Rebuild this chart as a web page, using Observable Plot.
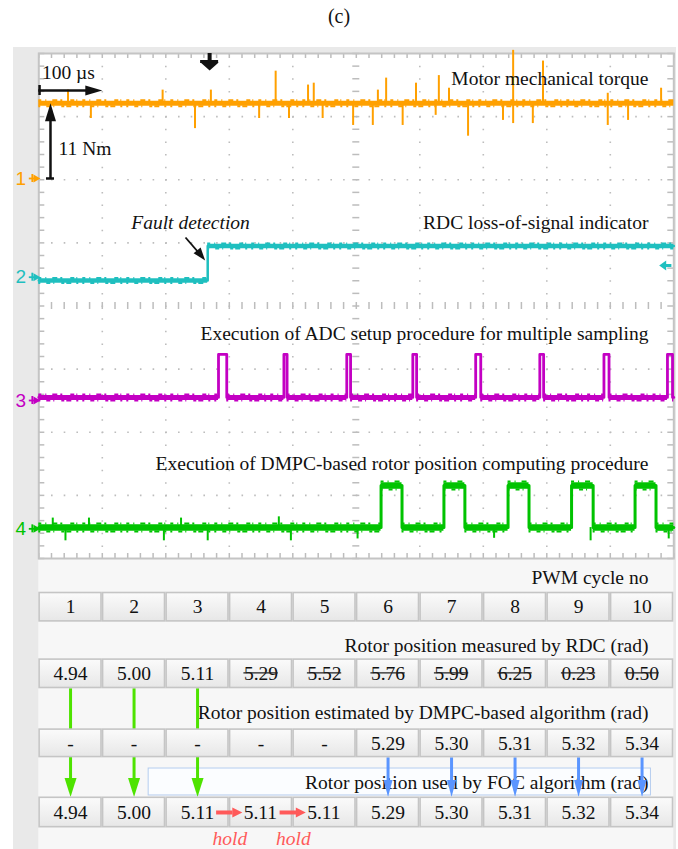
<!DOCTYPE html>
<html><head><meta charset="utf-8">
<script src="https://cdn.jsdelivr.net/npm/d3@7"></script>
<script src="https://cdn.jsdelivr.net/npm/@observablehq/plot@0.6"></script>
<style>
body{margin:0;background:#fff;}
#wrap{position:relative;width:678px;height:849px;overflow:hidden;}
#panel{position:absolute;left:13px;top:47px;width:663px;height:802px;background:#e9e9e9;}
#title{position:absolute;left:0;top:5px;width:678px;text-align:center;font:20px "Liberation Serif",serif;color:#111;}
#chart{position:absolute;left:0;top:0;}
</style></head><body>
<div id="wrap"><div id="panel"></div><div id="title"></div><div id="chart"></div></div>
<script>
// ---------------- data ----------------
const title = "(c)";
const channelIds = ["1", "2", "3", "4"];
const channelColors = ["#ffa000", "#1fbfbf", "#c300c3", "#00c300"];
const channelGround = [6.02, 4.456, 2.503, 0.47];            // div (100 µs/div time, 8 div vertical)
const channelLabels = ["Motor mechanical torque", "RDC loss-of-signal indicator",
  "Execution of ADC setup procedure for multiple sampling",
  "Execution of DMPC-based rotor position computing procedure"];

// ch1 - torque (div above ground)
const torqueLevel = 1.19;
const torqueSpikeT = [46, 82, 195, 246, 271, 347, 373, 394, 424, 433, 447, 495, 526, 534, 547, 573, 594, 625, 630, 646, 676, 731, 747, 747, 778, 794, 896, 896, 928, 980];
const torqueSpikeV = [1.40, 0.95, 1.40, 0.79, 1.40, 0.95, 1.70, 0.95, 1.48, 1.51, 0.95, 0.84, 0.84, 1.40, 1.59, 0.84, 1.51, 1.00, 1.63, 1.43, 0.67, 0.92, 2.03, 0.87, 0.87, 1.86, 1.35, 0.84, 0.92, 1.43];
// ch2 - RDC loss of signal
const losStepT = 266, losLow = -0.052, losHigh = 0.495;
// ch3 - ADC setup pulses
const adcLow = 0.048, adcHigh = 0.73;
const adcPulseStart = [283, 386, 485, 589, 688, 789, 890, 990];
const adcPulseEnd   = [296, 391, 491, 595, 696, 795, 898, 998];
// ch4 - DMPC computing pulses
const dmpcLow = 0.02, dmpcHigh = 0.686;
const dmpcPulseStart = [539, 638, 739, 839, 939];
const dmpcPulseEnd   = [572, 671, 772, 873, 972];
const dmpcSpikeT = [22, 42, 79, 197, 224, 266, 378, 397, 502, 717, 869, 992];
const dmpcSpikeV = [0.17, -0.19, 0.17, -0.19, 0.17, -0.19, 0.19, -0.19, -0.16, -0.15, -0.19, -0.16];

const triggerT = 269;
const ch2MarkerLevel = 0.186;
const timeScaleLabel = "100 µs", timeScaleT = 100;
const torqueScaleLabel = "11 Nm";
const faultLabel = "Fault detection";

// table
const pwmCycles = ["1", "2", "3", "4", "5", "6", "7", "8", "9", "10"];
const rdcValues = ["4.94", "5.00", "5.11", "5.29", "5.52", "5.76", "5.99", "6.25", "0.23", "0.50"];
const rdcStruck = [false, false, false, true, true, true, true, true, true, true];
const dmpcValues = ["-", "-", "-", "-", "-", "5.29", "5.30", "5.31", "5.32", "5.34"];
const focValues = ["4.94", "5.00", "5.11", "5.11", "5.11", "5.29", "5.30", "5.31", "5.32", "5.34"];
const rowLabels = ["PWM cycle no", "Rotor position measured by RDC (rad)",
  "Rotor position estimated by DMPC-based algorithm (rad)", "Rotor position used by FOC algorithm (rad)"];
const rdcUsedCycles = [1, 2, 3];
const dmpcUsedCycles = [6, 7, 8, 9, 10];
const holdCycles = [4, 5];
const holdLabel = "hold";

// ---------------- layout ----------------
const W = 678, H = 849, mL = 38.3, mR = 4.7, mT = 53, mB = 291;
const tPx = 1000 / (W - mL - mR), vPx = 8 / (H - mT - mB);
const serif = "Liberation Serif, Times New Roman, serif";
const FS = 19.5;
const rowBox = [[-0.534, -1.009], [-1.589, -2.064], [-2.698, -3.158], [-3.778, -4.269]];
const rowMid = rowBox.map(([a, b]) => (a + b) / 2);
const labelV = [-0.301, -1.378, -2.44, -3.548];
const labelT = 960;

function tri(tipT, tipV, dx, dy, len, wid, id) {
  const n = Math.hypot(dx, dy), ux = dx / n, uy = dy / n;
  const bx = -ux * len, by = -uy * len, qx = -uy, qy = ux;
  return [[0, 0], [bx + qx * wid / 2, by + qy * wid / 2], [bx - qx * wid / 2, by - qy * wid / 2]]
    .map(([ox, oy]) => ({id, t: tipT + ox * tPx, v: tipV - oy * vPx}));
}
function pulseTrace(starts, ends, low, high, g) {
  const p = [{t: 0, v: g + low}];
  starts.forEach((s, k) => p.push({t: s, v: g + low}, {t: s, v: g + high}, {t: ends[k], v: g + high}, {t: ends[k], v: g + low}));
  p.push({t: 1000, v: g + low});
  return p;
}
function levelSegs(starts, ends, low, high, g) {
  const s = [];
  let prev = 0;
  starts.forEach((st, k) => { s.push({t1: prev, t2: st, v: g + low}); s.push({t1: st, t2: ends[k], v: g + high}); prev = ends[k]; });
  s.push({t1: prev, t2: 1000, v: g + low});
  return s;
}
// oscilloscope band texture (styling only: dashed edge strokes)
function band(segs, color, width, off) {
  return [
    Plot.ruleY(segs, {x1: "t1", x2: "t2", y: "v", stroke: color, strokeWidth: width}),
    Plot.ruleY(segs, {x1: "t1", x2: "t2", y: "v", dy: -off, stroke: color, strokeWidth: 2, strokeDasharray: "3,4,1,6,5,3,2,8,4,2,1,5"}),
    Plot.ruleY(segs, {x1: "t1", x2: "t2", y: "v", dy: off, stroke: color, strokeWidth: 2, strokeDasharray: "2,6,4,3,1,7,3,2,5,5,2,4"})
  ];
}

document.getElementById("title").textContent = title;

const g = channelGround, col = channelColors;
const divT = d3.range(100, 1000, 100).filter(t => t !== 500);
const divV = d3.range(1, 8).filter(v => v !== 4);
const minorT = d3.range(0, 1000.1, 20);
const minorV = d3.range(0, 8.01, 0.2);
const gridC = "#bdbdbd";

const marks = [];
// backgrounds
marks.push(Plot.rect([0], {x1: 0, x2: 1000, y1: 0, y2: -4.8, fill: "#f7f7f7"}));
marks.push(Plot.frame({fill: "white", stroke: "none"}));
// graticule
marks.push(Plot.ruleX(divT, {stroke: gridC, strokeWidth: 1.6, strokeDasharray: "1.6,11.025"}));
marks.push(Plot.ruleY(divV, {stroke: gridC, strokeWidth: 1.6, strokeDasharray: "1.6,11.1"}));
marks.push(Plot.ruleX(minorT, {y1: 4 - 3.5 * vPx, y2: 4 + 3.5 * vPx, stroke: gridC, strokeWidth: 1.5}));
marks.push(Plot.ruleY(minorV, {x1: 500 - 3.5 * tPx, x2: 500 + 3.5 * tPx, stroke: gridC, strokeWidth: 1.5}));
marks.push(Plot.ruleY(minorV, {x1: 0, x2: 6 * tPx, stroke: gridC, strokeWidth: 1.5}));
marks.push(Plot.ruleY(minorV, {x1: 1000 - 6 * tPx, x2: 1000, stroke: gridC, strokeWidth: 1.5}));
marks.push(Plot.ruleX(minorT, {y1: 8 - 5 * vPx, y2: 8, stroke: gridC, strokeWidth: 1.5}));
marks.push(Plot.ruleX(minorT, {y1: 0, y2: 5 * vPx, stroke: gridC, strokeWidth: 1.5}));
marks.push(Plot.frame({stroke: "#c4c4c4", strokeWidth: 2}));

// ch1 torque
marks.push(...band([{t1: 0, t2: 1000, v: g[0] + torqueLevel}], col[0], 5, 3));
marks.push(Plot.ruleX(torqueSpikeT.map((t, k) => ({t, v: torqueSpikeV[k]})),
  {x: "t", y1: g[0] + torqueLevel, y2: d => g[0] + d.v, stroke: col[0], strokeWidth: 2}));
// ch2 loss of signal
marks.push(Plot.line([{t: 0, v: g[1] + losLow}, {t: losStepT, v: g[1] + losLow}, {t: losStepT, v: g[1] + losHigh}, {t: 1000, v: g[1] + losHigh}],
  {x: "t", y: "v", stroke: col[1], strokeWidth: 2.5}));
marks.push(...band([{t1: 0, t2: losStepT, v: g[1] + losLow}, {t1: losStepT, t2: 1000, v: g[1] + losHigh}], col[1], 4.5, 2.5));
// ch3 ADC
marks.push(Plot.line(pulseTrace(adcPulseStart, adcPulseEnd, adcLow, adcHigh, g[2]), {x: "t", y: "v", stroke: col[2], strokeWidth: 2.8}));
marks.push(...band(levelSegs(adcPulseStart, adcPulseEnd, adcLow, adcHigh, g[2]).filter(s => s.v === g[2] + adcLow), col[2], 5, 3));
// ch4 DMPC
marks.push(Plot.line(pulseTrace(dmpcPulseStart, dmpcPulseEnd, dmpcLow, dmpcHigh, g[3]), {x: "t", y: "v", stroke: col[3], strokeWidth: 3}));
marks.push(...band(levelSegs(dmpcPulseStart, dmpcPulseEnd, dmpcLow, dmpcHigh, g[3]), col[3], 6.5, 4));
marks.push(Plot.ruleX(dmpcSpikeT.map((t, k) => ({t, v: dmpcSpikeV[k]})),
  {x: "t", y1: g[3] + dmpcLow, y2: d => g[3] + d.v, stroke: col[3], strokeWidth: 2}));

// channel markers
const chData = channelIds.map((id, k) => ({id, k, v: g[k]}));
marks.push(Plot.text(chData, {x: 0, y: "v", text: "id", dx: -18, fill: d => col[d.k], fontSize: 19, fontFamily: "Liberation Sans, DejaVu Sans, sans-serif"}));
marks.push(Plot.ruleY(chData, {x1: -9.5 * tPx, x2: -2 * tPx, y: "v", stroke: d => col[d.k], strokeWidth: 1.8}));
marks.push(Plot.ruleX(chData, {x: -6.5 * tPx, y1: d => d.v - 4 * vPx, y2: d => d.v + 4 * vPx, stroke: d => col[d.k], strokeWidth: 1.8}));
marks.push(Plot.dot(chData, {x: -3 * tPx, y: "v", symbol: "triangle", rotate: 90, r: 3, fill: d => col[d.k], stroke: "none"}));
// ch2 right-side level marker
marks.push(Plot.ruleY([g[1] + ch2MarkerLevel], {x1: 985, x2: 997, stroke: col[1], strokeWidth: 3}));
marks.push(Plot.line(tri(977, g[1] + ch2MarkerLevel, -1, 0, 7, 10, "m"), {x: "t", y: "v", z: "id", fill: col[1], stroke: "none", curve: "linear-closed"}));

// channel labels
marks.push(Plot.text(channelLabels.map((s, k) => ({s, v: [7.604, 5.323, 3.564, 1.505][k]})),
  {x: labelT, y: "v", text: "s", textAnchor: "end", fontSize: FS, fontFamily: serif, fill: "#111"}));

// scale annotations
const tsV = 7.414;
marks.push(Plot.ruleY([tsV], {x1: 0, x2: timeScaleT - 15 * tPx, stroke: "#111", strokeWidth: 2.5}));
marks.push(Plot.ruleX([1.2], {y1: tsV - 5 * vPx, y2: tsV + 5 * vPx, stroke: "#111", strokeWidth: 2.5}));
const tqT = 18.4;
marks.push(Plot.ruleX([tqT], {y1: g[0], y2: g[0] + torqueLevel - 15 * vPx, stroke: "#111", strokeWidth: 2.5}));
marks.push(Plot.ruleY([g[0]], {x1: tqT - 4 * tPx, x2: tqT + 4 * tPx, stroke: "#111", strokeWidth: 2.5}));
const faultFrom = {t: 231, v: 5.085}, faultTo = {t: losStepT - 4, v: 4.72};
marks.push(Plot.link([0], {x1: faultFrom.t, y1: faultFrom.v, x2: faultTo.t - 6 * tPx * 0.62, y2: faultTo.v + 6 * vPx * 0.78, stroke: "#111", strokeWidth: 1.8}));
marks.push(Plot.ruleX([triggerT], {y1: 8, y2: 8 - 8 * vPx, stroke: "#111", strokeWidth: 4}));
marks.push(Plot.rect([0], {x1: triggerT - 9 * tPx, x2: triggerT + 9 * tPx, y1: 8 - 7 * vPx, y2: 8 - 10 * vPx, fill: "#111"}));
const blackHeads = [
  ...tri(timeScaleT, tsV, 1, 0, 17, 10, "a"),
  ...tri(tqT, g[0] + torqueLevel, 0, -1, 18, 11, "b"),
  ...tri(faultTo.t, faultTo.v, 19, 24, 13, 9, "c"),
  ...tri(triggerT, 8 - 17 * vPx, 0, 1, 8, 18, "d")
];
marks.push(Plot.line(blackHeads, {x: "t", y: "v", z: "id", fill: "#111", stroke: "none", curve: "linear-closed"}));
marks.push(Plot.text([timeScaleLabel], {x: 5, y: 7.70, text: d => d, textAnchor: "start", fontSize: FS, fontFamily: serif, fill: "#111"}));
marks.push(Plot.text([torqueScaleLabel], {x: 31, y: 6.495, text: d => d, textAnchor: "start", fontSize: FS, fontFamily: serif, fill: "#111"}));
marks.push(Plot.text([faultLabel], {x: 239, y: 5.323, text: d => d, fontSize: FS, fontStyle: "italic", fontFamily: serif, fill: "#111"}));

// ---------------- table ----------------
marks.push(Plot.rect([0], {x1: 173, x2: 964, y1: -3.327, y2: -3.754, fill: "#fbfdff", stroke: "#b5cdef", strokeWidth: 1}));
marks.push(Plot.text(rowLabels.map((s, k) => ({s, v: labelV[k]})),
  {x: labelT, y: "v", text: "s", textAnchor: "end", fontSize: FS, fontFamily: serif, fill: "#111"}));
const cx = c => (c - 0.5) * 100;
// green arrows (RDC -> FOC)
const green = "#4ee300";
marks.push(Plot.ruleX(rdcUsedCycles, {x: cx, y1: rowBox[1][1], y2: rowBox[3][0] + 15 * vPx, stroke: green, strokeWidth: 3}));
marks.push(Plot.line(rdcUsedCycles.flatMap(c => tri(cx(c), rowBox[3][0], 0, 1, 19, 12, "g" + c)),
  {x: "t", y: "v", z: "id", fill: green, stroke: "none", curve: "linear-closed"}));
// blue arrows (DMPC -> FOC)
const blue = "#5a95ff";
marks.push(Plot.ruleX(dmpcUsedCycles, {x: cx, y1: rowBox[2][1], y2: rowBox[3][0] + 14 * vPx, stroke: blue, strokeWidth: 3}));
marks.push(Plot.line(dmpcUsedCycles.flatMap(c => tri(cx(c), rowBox[3][0], 0, 1, 17, 9, "b" + c)),
  {x: "t", y: "v", z: "id", fill: blue, stroke: "none", curve: "linear-closed"}));
// cells
const rowsText = [pwmCycles, rdcValues, dmpcValues, focValues];
const cells = rowsText.flatMap((arr, r) => arr.map((s, i) => ({r, i, s})));
marks.push(Plot.rect(cells, {x1: d => d.i * 100, x2: d => (d.i + 1) * 100, y1: d => rowBox[d.r][0], y2: d => rowBox[d.r][1],
  inset: 0.8, fill: "url(#cellgrad)", stroke: "#c5c5c5", strokeWidth: 1.6}));
marks.push(Plot.text(cells, {x: d => d.i * 100 + 50 + (d.r === 3 && (d.i === 3 || d.i === 4) ? -1 : 0), y: d => rowMid[d.r], text: "s",
  fontSize: FS, fontFamily: serif, fill: "#111"}));
marks.push(Plot.ruleY(rdcValues.map((s, i) => ({s, i})).filter(d => rdcStruck[d.i]),
  {x1: d => d.i * 100 + 50 - 27, x2: d => d.i * 100 + 50 + 27, y: rowMid[1] + 1 * vPx, stroke: "#222", strokeWidth: 1.2}));
// hold arrows
const red = "#ff5a5a";
marks.push(Plot.ruleY(holdCycles, {x1: c => (c - 1) * 100 - 20, x2: c => (c - 1) * 100 + 20 - 9 * tPx, y: rowMid[3], stroke: red, strokeWidth: 4}));
marks.push(Plot.line(holdCycles.flatMap(c => tri((c - 1) * 100 + 20.5, rowMid[3], 1, 0, 10, 10, "r" + c)),
  {x: "t", y: "v", z: "id", fill: red, stroke: "none", curve: "linear-closed"}));
marks.push(Plot.text(holdCycles, {x: c => (c - 1) * 100 + 1, y: -4.436, text: () => holdLabel, fontSize: FS, fontStyle: "italic", fontFamily: serif, fill: red}));

const chart = Plot.plot({
  width: W, height: H,
  marginLeft: mL, marginRight: mR, marginTop: mT, marginBottom: mB,
  style: {background: "transparent", overflow: "visible"},
  x: {domain: [0, 1000], axis: null},
  y: {domain: [0, 8], axis: null},
  marks
});
const ns = "http://www.w3.org/2000/svg";
const defs = document.createElementNS(ns, "defs");
defs.innerHTML = '<linearGradient id="cellgrad" x1="0" y1="0" x2="0" y2="1"><stop offset="0" stop-color="#fbfbfb"/><stop offset="1" stop-color="#e7e7e7"/></linearGradient>';
chart.insertBefore(defs, chart.firstChild);
document.getElementById("chart").appendChild(chart);
</script></body></html>
